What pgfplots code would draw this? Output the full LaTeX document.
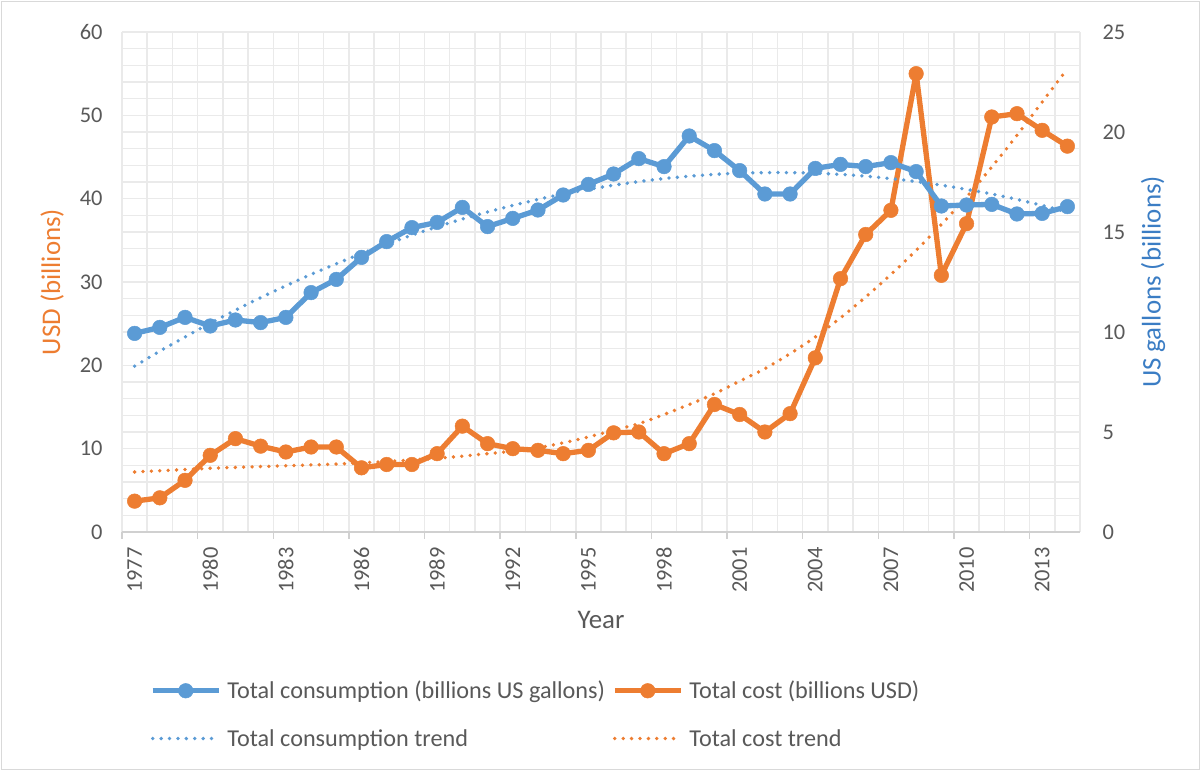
\documentclass[border=0pt]{standalone}
\usepackage{pgfplots}
\pgfplotsset{compat=1.18}
\usepackage{pgfplotstable}
\usepackage{fontspec}
\setmainfont{Carlito}
\definecolor{cblue}{HTML}{5B9BD5}
\definecolor{corange}{HTML}{ED7D31}
\definecolor{bluetitle}{HTML}{3B7DC4}
\definecolor{tickgray}{HTML}{595959}
\definecolor{gridgray}{HTML}{EAEAEA}
\definecolor{axisgray}{HTML}{D0D0D0}
\definecolor{bordergray}{HTML}{D9D9D9}

\pgfplotstableread{
year cost
1977 3.7
1978 4.1
1979 6.2
1980 9.2
1981 11.2
1982 10.3
1983 9.6
1984 10.2
1985 10.2
1986 7.7
1987 8.1
1988 8.1
1989 9.4
1990 12.7
1991 10.6
1992 10.0
1993 9.8
1994 9.4
1995 9.8
1996 11.9
1997 12.0
1998 9.4
1999 10.6
2000 15.3
2001 14.1
2002 12.0
2003 14.2
2004 20.9
2005 30.4
2006 35.7
2007 38.6
2008 55.0
2009 30.8
2010 37.0
2011 49.8
2012 50.2
2013 48.2
2014 46.3
}\costtable

\pgfplotstableread{
year trend
1977 7.2
1978 7.35
1979 7.5
1980 7.65
1981 7.75
1982 7.85
1983 7.95
1984 8.05
1985 8.15
1986 8.3
1987 8.45
1988 8.65
1989 8.85
1990 9.1
1991 9.4
1992 9.7
1993 10.1
1994 10.7
1995 11.4
1996 12.2
1997 13.0
1998 14.1
1999 15.3
2000 16.6
2001 18.1
2002 19.6
2003 21.4
2004 23.4
2005 25.7
2006 28.2
2007 30.9
2008 33.8
2009 36.9
2010 40.2
2011 43.8
2012 47.6
2013 51.6
2014 55.6
}\costtrend

\pgfplotstableread{
year gal
1977 9.93
1978 10.23
1979 10.73
1980 10.30
1981 10.60
1982 10.47
1983 10.73
1984 11.97
1985 12.63
1986 13.73
1987 14.52
1988 15.22
1989 15.48
1990 16.23
1991 15.27
1992 15.68
1993 16.10
1994 16.85
1995 17.38
1996 17.90
1997 18.67
1998 18.27
1999 19.80
2000 19.07
2001 18.07
2002 16.90
2003 16.90
2004 18.18
2005 18.38
2006 18.27
2007 18.47
2008 18.02
2009 16.30
2010 16.35
2011 16.38
2012 15.90
2013 15.93
2014 16.27
}\galtable

\pgfplotstableread{
year trend
1977 8.29
1978 9.04
1979 9.75
1980 10.44
1981 11.09
1982 11.72
1983 12.31
1984 12.88
1985 13.41
1986 13.92
1987 14.40
1988 14.84
1989 15.26
1990 15.65
1991 16.00
1992 16.33
1993 16.63
1994 16.90
1995 17.13
1996 17.34
1997 17.52
1998 17.67
1999 17.79
2000 17.88
2001 17.94
2002 17.97
2003 17.97
2004 17.94
2005 17.88
2006 17.79
2007 17.67
2008 17.52
2009 17.34
2010 17.13
2011 16.90
2012 16.63
2013 16.33
2014 16.00
}\galtrend

\pgfplotsset{
  common/.style={
    at={(122bp,239bp)}, anchor=south west,
    scale only axis, width=958bp, height=500bp,
    xmin=1976.5, xmax=2014.5, ymin=0,
    /pgf/number format/assume math mode=true,
    tick label style={font=\fontsize{22.5}{27}\selectfont, color=tickgray},
    major tick length=0pt, minor tick length=0pt,
    clip=false,
  },
  mainline/.style={line width=5.3bp, line join=round, mark=*, mark size=7.3bp, mark options={solid, line width=0.5bp}},
  trendline/.style={line width=3.8bp, line cap=round, dash pattern=on 0bp off 8.4bp, smooth, no markers},
}

\begin{document}
\begin{tikzpicture}
\useasboundingbox (0,0) rectangle (1201bp,771bp);
\draw[bordergray, line width=1.2bp] (1.5bp,1.5bp) rectangle (1199.5bp,769.5bp);
\begin{axis}[common,
  ymax=60,
  axis x line*=bottom, axis y line*=left,
  y axis line style={draw=none},
  x axis line style={draw=axisgray, line width=1.5bp, -},
  xtick={1977,1980,...,2013},
  xticklabels={1977,1980,1983,1986,1989,1992,1995,1998,2001,2004,2007,2010,2013},
  xticklabel style={rotate=90, anchor=east, xshift=-12bp},
  minor xtick={1976.5,1977.5,...,2014.5},
  extra x ticks={1976.5,1979.5,...,2012.5},
  extra x tick labels={},
  extra x tick style={major tick length=7bp, tick align=outside, xmajorgrids=false, tick style={draw=axisgray, line width=1.5bp}},
  ytick={0,10,...,60},
  minor ytick={0,2,...,60},
  yticklabel style={anchor=east, xshift=-16bp},
  xminorgrids, ymajorgrids, yminorgrids,
  grid style={draw=gridgray, line width=1.5bp},
  minor grid style={draw=gridgray, line width=1.5bp},
  every axis y label/.style={at={(axis description cs:-0.073,0.5)}, rotate=90, anchor=center},
  ylabel={USD (billions)},
  ylabel style={font=\fontsize{27}{32}\selectfont, color=corange},
  every axis x label/.style={at={(axis description cs:0.5,-0.176)}, anchor=center},
  xlabel={Year},
  xlabel style={font=\fontsize{27}{32}\selectfont, color=tickgray},
]
\addplot[corange, trendline] table[x=year, y=trend] {\costtrend};
\addplot[corange, mainline] table[x=year, y=cost] {\costtable};
\end{axis}
\begin{axis}[common,
  ymax=25,
  axis x line=none, axis y line*=right,
  y axis line style={draw=none},
  ytick={0,5,...,25},
  yticklabel style={anchor=west, xshift=19bp},
  every axis y label/.style={at={(axis description cs:1.0762,0.5)}, rotate=90, anchor=center},
  ylabel={US gallons (billions)},
  ylabel style={font=\fontsize{27}{32}\selectfont, color=bluetitle},
  legend columns=2,
  legend cell align=left,
  legend image code/.code={\draw[mark repeat=2, mark phase=2, #1] plot coordinates {(0bp,0bp) (33bp,0bp) (66bp,0bp)};},
  legend style={draw=none, fill=none, at={(axis description cs:0.026,-0.29)}, anchor=north west,
    font=\fontsize{24.3}{29}\selectfont, text=tickgray, row sep=25bp,
    /tikz/every odd column/.append style={column sep=4bp},
    /tikz/every even column/.append style={column sep=5bp}},
]
\addplot[cblue, mainline] table[x=year, y=gal] {\galtable};
\addlegendentry{Total consumption (billions US gallons)}
\addlegendimage{corange, mainline}
\addlegendentry{Total cost (billions USD)}
\addplot[cblue, trendline] table[x=year, y=trend] {\galtrend};
\addlegendentry{Total consumption trend}
\addlegendimage{corange, line width=3.8bp, line cap=round, dash pattern=on 0bp off 8.4bp}
\addlegendentry{Total cost trend}
\end{axis}
\end{tikzpicture}
\end{document}
